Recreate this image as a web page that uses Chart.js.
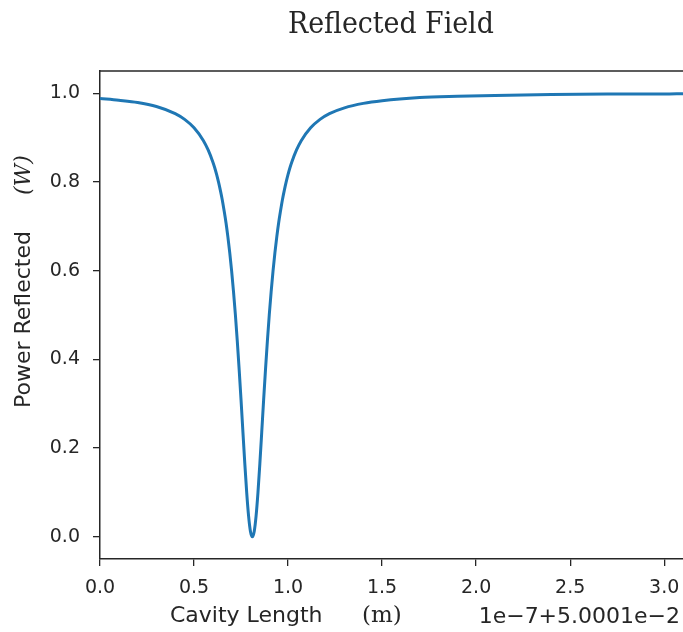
<!DOCTYPE html>
<html>
<head>
<meta charset="utf-8">
<script src="https://cdn.jsdelivr.net/npm/chart.js@4.4.1/dist/chart.umd.min.js"></script>
<style>
  html, body { margin: 0; padding: 0; background: #fff; }
  #wrap { width: 683px; height: 632px; }
</style>
</head>
<body>
<div id="wrap"><canvas id="reflChart" width="683" height="632"></canvas></div>
<script>
// cavity length offset (units of 1e-7, on top of 5.0001e-2 m)
const cavityLength = [
  0, 0.1, 0.2, 0.3, 0.4, 0.45, 0.5, 0.55, 0.575,
  0.6, 0.61, 0.62, 0.63, 0.64, 0.65, 0.66, 0.67, 0.68, 0.69, 0.7,
  0.71, 0.72, 0.73, 0.74, 0.75, 0.76, 0.77, 0.78, 0.79, 0.8,
  0.81,
  0.82, 0.83, 0.84, 0.85, 0.86, 0.87, 0.88, 0.89, 0.9, 0.91,
  0.92, 0.93, 0.94, 0.95, 0.96, 0.97, 0.98, 0.99, 1.0, 1.01, 1.02,
  1.045, 1.07, 1.12, 1.17, 1.22, 1.3, 1.4, 1.5, 1.7, 1.9, 2.1, 2.4, 2.7, 3.0, 3.1
];
// reflected power (W)
const powerReflected = [
  0.988, 0.984, 0.979, 0.970, 0.954, 0.941, 0.922, 0.893, 0.872,
  0.845, 0.832, 0.817, 0.800, 0.781, 0.760, 0.735, 0.708, 0.676, 0.640, 0.599,
  0.552, 0.500, 0.441, 0.377, 0.308, 0.236, 0.165, 0.100, 0.047, 0.012,
  0.000,
  0.012, 0.047, 0.100, 0.165, 0.236, 0.308, 0.377, 0.441, 0.500, 0.552,
  0.599, 0.640, 0.676, 0.708, 0.735, 0.760, 0.781, 0.800, 0.817, 0.832, 0.845,
  0.872, 0.893, 0.922, 0.941, 0.954, 0.967, 0.977, 0.983, 0.990, 0.993, 0.995, 0.997, 0.998, 0.998, 0.999
];
const xTicks = [0, 0.5, 1.0, 1.5, 2.0, 2.5, 3.0];
const yTicks = [0, 0.2, 0.4, 0.6, 0.8, 1.0];

const titleText = 'Reflected Field';
const xLabelText = 'Cavity Length';
const xUnitText = '(m)';
const yLabelText = 'Power Reflected';
const yUnitText = '(W)';
const offsetText = '1e\u22127+5.0001e\u22122';

const INK = '#262626';
const SANS = '"DejaVu Sans", sans-serif';
const SERIF = '"DejaVu Serif", serif';

// top frame line + titles drawn by hand (matplotlib style placement)
const textPlugin = {
  id: 'mplText',
  afterDraw(chart) {
    const ctx = chart.ctx;
    const a = chart.chartArea;
    ctx.save();
    // top spine
    ctx.strokeStyle = INK;
    ctx.lineWidth = 1.5;
    ctx.beginPath();
    ctx.moveTo(a.left, a.top);
    ctx.lineTo(a.right, a.top);
    ctx.stroke();

    ctx.fillStyle = INK;
    // title, sized to the reference width
    let size = 31;
    ctx.font = size + 'px "DejaVu Serif Condensed", "DejaVu Serif", serif';
    const w = ctx.measureText(titleText).width;
    size = size * 206 / w;
    ctx.font = size.toFixed(1) + 'px "DejaVu Serif Condensed", "DejaVu Serif", serif';
    ctx.textAlign = 'left';
    ctx.textBaseline = 'alphabetic';
    ctx.fillText(titleText, 288, 33);

    // x label
    ctx.textBaseline = 'middle';
    ctx.font = '22px ' + SANS;
    ctx.fillText(xLabelText, 170, 616);
    ctx.font = '23px ' + SERIF;
    ctx.fillText(xUnitText, 362, 616);
    // offset text
    ctx.textAlign = 'right';
    ctx.font = '22px ' + SANS;
    ctx.fillText(offsetText, 680, 617);

    // y label (rotated)
    ctx.translate(24, 0);
    ctx.rotate(-Math.PI / 2);
    ctx.textAlign = 'left';
    ctx.font = '22px ' + SANS;
    ctx.fillText(yLabelText, -408, 0);
    ctx.font = 'italic 22px ' + SERIF;
    ctx.fillText(yUnitText, -195, 0);
    ctx.restore();
  }
};

const ctx = document.getElementById('reflChart').getContext('2d');
new Chart(ctx, {
  type: 'line',
  data: {
    datasets: [{
      data: cavityLength.map((x, i) => ({ x: x, y: powerReflected[i] })),
      borderColor: '#1f77b4',
      borderWidth: 3,
      pointRadius: 0,
      fill: false,
      cubicInterpolationMode: 'monotone'
    }]
  },
  options: {
    responsive: false,
    animation: false,
    devicePixelRatio: 1,
    layout: { padding: { top: 71, left: 0, right: 0, bottom: 0 } },
    plugins: {
      legend: { display: false },
      tooltip: { enabled: false },
      title: { display: false }
    },
    scales: {
      x: {
        type: 'linear',
        min: 0,
        max: 3.1,
        afterFit: s => { s.height = 73; s.paddingLeft = 0; s.paddingRight = 0; },
        afterBuildTicks: s => { s.ticks = xTicks.map(v => ({ value: v })); },
        grid: { drawOnChartArea: false, drawTicks: true, tickLength: 7, color: INK, lineWidth: 1.3 },
        border: { display: true, color: INK, width: 1.5 },
        ticks: {
          color: INK,
          font: { family: SANS, size: 19 },
          padding: 11,
          maxRotation: 0,
          autoSkip: false,
          callback: v => v.toFixed(1)
        }
      },
      y: {
        min: -0.05,
        max: 1.05,
        afterFit: s => { s.width = 100; s.paddingTop = 0; s.paddingBottom = 0; },
        afterBuildTicks: s => { s.ticks = yTicks.map(v => ({ value: v })); },
        grid: { drawOnChartArea: false, drawTicks: true, tickLength: 7, color: INK, lineWidth: 1.3 },
        border: { display: true, color: INK, width: 1.5 },
        ticks: {
          color: INK,
          font: { family: SANS, size: 19 },
          padding: 13,
          autoSkip: false,
          callback: v => v.toFixed(1)
        }
      }
    }
  },
  plugins: [textPlugin]
});
</script>
</body>
</html>
